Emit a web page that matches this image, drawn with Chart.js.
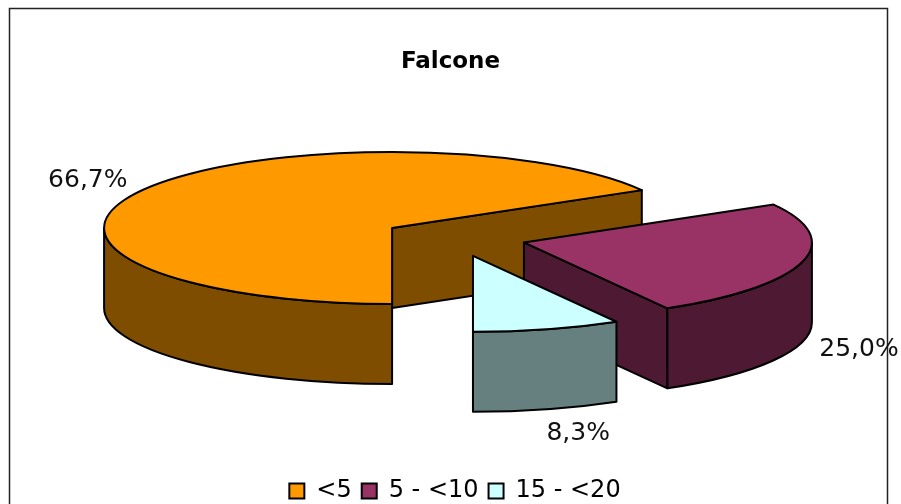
<!DOCTYPE html>
<html lang="en">
<head>
  <meta charset="UTF-8">
  <title>Falcone</title>
  <script src="https://cdn.jsdelivr.net/npm/chart.js"></script>
  <style>
    html, body { margin: 0; padding: 0; background: #fff; overflow: hidden; }
    canvas { display: block; }
  </style>
</head>
<body>
  <canvas id="graph" width="901" height="504"></canvas>

  <script>
    const chartTitle = 'Falcone';
    const categories = ['<5', '5 - <10', '15 - <20'];
    const shares = [66.7, 25.0, 8.3];
    const topColors = ['#FF9900', '#993366', '#CCFFFF'];
    const wallColors = ['#7F4D00', '#4D1933', '#668080'];

    // Fake 3D: the pie is squashed, exploded and given a wall
    const FONT = '"DejaVu Sans", Verdana, sans-serif';
    const radius = 288;
    const squash = 76 / 288;
    const depth = 80;
    const explode = 72;
    const pieX = 454.4;
    const pieY = 237.5;
    const labelShift = [[-55, -9], [57, 7], [31, 24]]; // from the rim, in px

    function sliceCenter(arc) {
      const mid = (arc.startAngle + arc.endAngle) / 2;
      return {
        x: pieX + Math.cos(mid) * explode,
        y: pieY + Math.sin(mid) * explode * squash
      };
    }

    function rim(c, angle) {
      return {
        x: c.x + Math.cos(angle) * radius,
        y: c.y + Math.sin(angle) * radius * squash
      };
    }

    function drawWalls(ctx, arc, wall) {
      const c = sliceCenter(arc);
      ctx.fillStyle = wall;

      // Cut faces that look toward the viewer
      [[arc.startAngle, -1], [arc.endAngle, 1]].forEach(([angle, side]) => {
        if (Math.sin(angle + side * Math.PI / 2) <= 0.001) return;
        const p = rim(c, angle);
        ctx.beginPath();
        ctx.moveTo(c.x, c.y);
        ctx.lineTo(p.x, p.y);
        ctx.lineTo(p.x, p.y + depth);
        ctx.lineTo(c.x, c.y + depth);
        ctx.closePath();
        ctx.fill();
        ctx.stroke();
      });

      // Curved wall, only the front half of the rim shows
      for (let turn = 0; turn < 2; turn++) {
        const from = Math.max(arc.startAngle, turn * 2 * Math.PI);
        const to = Math.min(arc.endAngle, turn * 2 * Math.PI + Math.PI);
        if (to <= from) continue;
        const a = rim(c, to);
        ctx.beginPath();
        ctx.ellipse(c.x, c.y, radius, radius * squash, 0, from, to);
        ctx.lineTo(a.x, a.y + depth);
        ctx.ellipse(c.x, c.y + depth, radius, radius * squash, 0, to, from, true);
        ctx.closePath();
        ctx.fill();
        ctx.stroke();
      }
    }

    const pie3d = {
      id: 'pie3d',
      afterLayout(chart) {
        // Legend sits lower and a little right of centre in the original
        chart.legend.left += 4.5;
        chart.legend.right += 4.5;
        chart.legend.top += 9;
        chart.legend.bottom += 9;
      },
      beforeDraw(chart) {
        const ctx = chart.ctx;
        // Frame runs off the bottom of the picture
        ctx.save();
        ctx.strokeStyle = '#222';
        ctx.lineWidth = 1.5;
        ctx.strokeRect(9.5, 8.5, 878, 520);
        ctx.restore();
      },
      beforeDatasetDraw(chart) {
        const ctx = chart.ctx;
        const arcs = chart.getDatasetMeta(0).data;

        ctx.save();
        ctx.strokeStyle = '#000';
        ctx.lineWidth = 2;
        ctx.lineJoin = 'round';
        arcs.forEach((arc, i) => drawWalls(ctx, arc, wallColors[i]));

        // Tops come from the library's own arc elements
        arcs.forEach(arc => {
          const c = sliceCenter(arc);
          ctx.save();
          ctx.translate(c.x, c.y);
          ctx.scale(1, squash);
          ctx.translate(-arc.x, -arc.y);
          arc.draw(ctx);
          ctx.restore();
        });

        arcs.forEach(arc => {
          const c = sliceCenter(arc);
          ctx.beginPath();
          ctx.moveTo(c.x, c.y);
          ctx.ellipse(c.x, c.y, radius, radius * squash, 0, arc.startAngle, arc.endAngle);
          ctx.closePath();
          ctx.stroke();
        });

        // Percent labels
        ctx.fillStyle = '#111';
        ctx.font = '25px ' + FONT;
        ctx.textAlign = 'center';
        ctx.textBaseline = 'middle';
        arcs.forEach((arc, i) => {
          const mid = (arc.startAngle + arc.endAngle) / 2;
          const p = rim(sliceCenter(arc), mid);
          const drop = Math.sin(mid) > 0 ? depth : 0;
          const text = shares[i].toFixed(1).replace('.', ',') + '%';
          ctx.fillText(text, p.x + labelShift[i][0], p.y + drop + labelShift[i][1]);
        });
        ctx.restore();
        return false;
      }
    };

    new Chart(document.getElementById('graph'), {
      type: 'pie',
      data: {
        labels: categories,
        datasets: [{
          data: shares,
          backgroundColor: topColors,
          borderWidth: 0,
          clip: false
        }]
      },
      options: {
        responsive: false,
        animation: false,
        events: [],
        rotation: 180,
        radius: radius,
        plugins: {
          title: {
            display: true,
            text: chartTitle,
            color: '#000',
            font: { family: FONT, size: 23, weight: 'bold' },
            padding: { top: 48, bottom: 10 }
          },
          legend: {
            position: 'bottom',
            labels: {
              color: '#111',
              font: { family: FONT, size: 24 },
              boxWidth: 15,
              boxHeight: 15,
              padding: 10,
              generateLabels: chart => categories.map((name, i) => ({
                text: name,
                fillStyle: topColors[i],
                strokeStyle: '#000',
                lineWidth: 2,
                index: i
              }))
            }
          },
          tooltip: { enabled: false }
        }
      },
      plugins: [pie3d]
    });
  </script>
</body>
</html>
